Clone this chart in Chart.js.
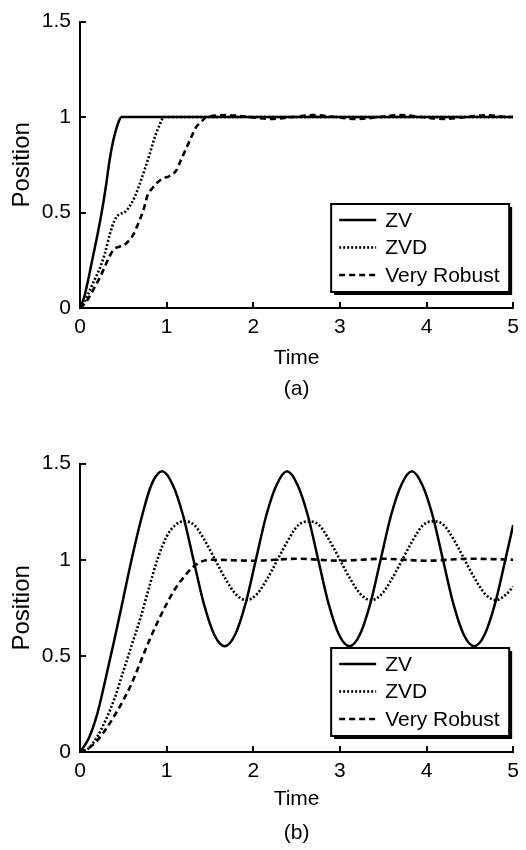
<!DOCTYPE html>
<html>
<head>
<meta charset="utf-8">
<script src="https://cdn.jsdelivr.net/npm/chart.js@4/dist/chart.umd.min.js"></script>
<style>
  body { margin: 0; background: #fff; }
  canvas { position: absolute; left: 0; }
  #js-chart-a { top: 0; }
  #js-chart-b { top: 442px; }
</style>
</head>
<body>
<canvas id="js-chart-a" width="526" height="410"></canvas>
<canvas id="js-chart-b" width="526" height="408"></canvas>
<script>
const seriesLabels = ['ZV', 'ZVD', 'Very Robust'];
const xTickLabels = ['0', '1', '2', '3', '4', '5'];
const yTickLabels = ['0', '0.5', '1', '1.5'];

// (a)
const zvTimeA = [0, 0.05, 0.1, 0.15, 0.2, 0.25, 0.3, 0.34, 0.38, 0.42, 0.45, 0.48, 5];
const zvPosA = [0, 0.06, 0.16, 0.27, 0.38, 0.5, 0.64, 0.77, 0.87, 0.94, 0.98, 1, 1];

const zvdTimeA = [0, 0.05, 0.11, 0.17, 0.23, 0.29, 0.34, 0.4, 0.45, 0.51, 0.57, 0.63, 0.69, 0.75, 0.8, 0.86, 0.92, 0.97, 5];
const zvdPosA = [0, 0.03, 0.09, 0.15, 0.21, 0.29, 0.38, 0.46, 0.49, 0.5, 0.53, 0.58, 0.65, 0.73, 0.8, 0.89, 0.96, 1, 1];

const vrTimeA = [0, 0.05, 0.11, 0.17, 0.23, 0.29, 0.34, 0.4, 0.45, 0.51, 0.56, 0.61, 0.67, 0.73, 0.78, 0.84, 0.9, 0.97, 1.03, 1.11, 1.16, 1.22, 1.28, 1.33, 1.41, 1.46, 1.7, 1.95, 2.2, 2.45, 2.7, 2.95, 3.2, 3.45, 3.7, 3.95, 4.2, 4.45, 4.7, 4.95, 5];
const vrPosA = [0, 0.02, 0.06, 0.11, 0.16, 0.22, 0.27, 0.31, 0.32, 0.33, 0.35, 0.38, 0.44, 0.51, 0.59, 0.63, 0.66, 0.68, 0.69, 0.72, 0.77, 0.83, 0.89, 0.94, 0.98, 1, 1.01, 1, 0.99, 1, 1.01, 1, 0.99, 1, 1.01, 1, 0.99, 1, 1.01, 1, 1];

// (b)
const zvTimeB = [0, 0.1, 0.2, 0.3, 0.4, 0.5, 0.6, 0.7, 0.8, 0.87, 0.95, 1.07, 1.19, 1.31, 1.43, 1.55, 1.67, 1.79, 1.91, 2.03, 2.15, 2.27, 2.39, 2.51, 2.63, 2.75, 2.87, 2.99, 3.11, 3.23, 3.35, 3.47, 3.59, 3.71, 3.83, 3.95, 4.07, 4.19, 4.31, 4.43, 4.55, 4.67, 4.79, 4.91, 5];
const zvPosB = [0, 0.07, 0.2, 0.39, 0.59, 0.8, 1.01, 1.2, 1.36, 1.43, 1.46, 1.39, 1.23, 1, 0.77, 0.61, 0.55, 0.61, 0.77, 1, 1.23, 1.39, 1.46, 1.39, 1.23, 1, 0.77, 0.61, 0.55, 0.61, 0.77, 1, 1.23, 1.39, 1.46, 1.39, 1.23, 1, 0.77, 0.61, 0.55, 0.61, 0.77, 1, 1.18];

const zvdTimeB = [0, 0.1, 0.2, 0.3, 0.4, 0.5, 0.6, 0.7, 0.8, 0.9, 1, 1.1, 1.2, 1.32, 1.44, 1.56, 1.68, 1.8, 1.92, 2.04, 2.16, 2.28, 2.4, 2.52, 2.64, 2.76, 2.88, 3, 3.12, 3.24, 3.36, 3.48, 3.6, 3.72, 3.84, 3.96, 4.08, 4.2, 4.32, 4.44, 4.56, 4.68, 4.8, 4.92, 5];
const zvdPosB = [0, 0.02, 0.08, 0.17, 0.28, 0.42, 0.56, 0.7, 0.86, 1.01, 1.12, 1.18, 1.2, 1.18, 1.1, 1, 0.9, 0.82, 0.79, 0.82, 0.9, 1, 1.1, 1.18, 1.2, 1.18, 1.1, 1, 0.9, 0.82, 0.79, 0.82, 0.9, 1, 1.1, 1.18, 1.2, 1.18, 1.1, 1, 0.9, 0.82, 0.79, 0.82, 0.86];

const vrTimeB = [0, 0.1, 0.2, 0.3, 0.4, 0.5, 0.6, 0.7, 0.8, 0.9, 1, 1.1, 1.2, 1.3, 1.4, 1.5, 2, 2.5, 3, 3.5, 4, 4.5, 5];
const vrPosB = [0, 0.02, 0.06, 0.12, 0.19, 0.27, 0.36, 0.47, 0.58, 0.68, 0.77, 0.85, 0.91, 0.96, 0.99, 1, 0.995, 1.005, 0.995, 1.005, 0.995, 1.005, 1];

Chart.defaults.font.family = '"Liberation Sans", Arial, sans-serif';
Chart.defaults.color = '#000';

const toPoints = (times, values) => times.map((t, i) => ({ x: t, y: values[i] }));

const lineStyles = [
  { borderDash: [], borderWidth: 2.5 },
  { borderDash: [2, 2], borderWidth: 2.6 },
  { borderDash: [6, 4], borderWidth: 2.6 }
];

function makeDatasets(series) {
  return series.map(([times, values], i) => ({
    label: seriesLabels[i],
    data: toPoints(times, values),
    borderColor: '#000',
    borderDash: lineStyles[i].borderDash,
    borderWidth: lineStyles[i].borderWidth,
    pointRadius: 0,
    cubicInterpolationMode: 'monotone',
    fill: false
  }));
}

// MATLAB style ticks pointing into the plot
const inwardTicks = {
  id: 'inwardTicks',
  afterDraw(chart) {
    const { ctx, scales: { x, y } } = chart;
    ctx.save();
    ctx.strokeStyle = '#000';
    ctx.lineWidth = 2;
    ctx.beginPath();
    for (const tick of x.ticks) {
      const px = Math.round(x.getPixelForValue(tick.value));
      ctx.moveTo(px, x.top);
      ctx.lineTo(px, x.top - 6);
    }
    for (const tick of y.ticks) {
      const py = Math.round(y.getPixelForValue(tick.value));
      ctx.moveTo(y.right, py);
      ctx.lineTo(y.right + 6, py);
    }
    ctx.stroke();
    ctx.restore();
  }
};

const boxLegend = {
  id: 'boxLegend',
  afterDraw(chart) {
    const { ctx, chartArea } = chart;
    const w = 178;
    const h = 88;
    const left = chartArea.right - 4 - w;
    const top = chartArea.bottom - 16 - h;
    ctx.save();
    ctx.fillStyle = '#000';
    ctx.fillRect(left + 3, top + 3, w, h);
    ctx.fillStyle = '#fff';
    ctx.fillRect(left, top, w, h);
    ctx.lineWidth = 2;
    ctx.strokeStyle = '#000';
    ctx.strokeRect(left, top, w, h);
    ctx.font = '21px "Liberation Sans", Arial, sans-serif';
    ctx.textBaseline = 'middle';
    chart.data.datasets.forEach((ds, i) => {
      const rowY = top + 16 + i * 27.5;
      ctx.setLineDash(ds.borderDash);
      ctx.lineWidth = ds.borderWidth;
      ctx.beginPath();
      ctx.moveTo(left + 8, rowY);
      ctx.lineTo(left + 45, rowY);
      ctx.stroke();
      ctx.setLineDash([]);
      ctx.fillStyle = '#000';
      ctx.fillText(ds.label, left + 54, rowY + 1);
    });
    ctx.restore();
  }
};

function buildChart(canvas, datasets, caption, dims) {
  return new Chart(canvas, {
    type: 'line',
    data: { datasets },
    options: {
      responsive: false,
      animation: false,
      devicePixelRatio: 1,
      layout: { padding: { top: 14, right: 9, left: 0, bottom: 0 } },
      plugins: {
        legend: { display: false },
        tooltip: { enabled: false }
      },
      scales: {
        x: {
          type: 'linear',
          min: 0,
          max: 5,
          grid: { display: false, drawTicks: false },
          border: { color: '#000', width: 2 },
          ticks: {
            stepSize: 1,
            padding: 7,
            maxRotation: 0,
            font: { size: 21 },
            callback: (value, index) => xTickLabels[index]
          },
          title: {
            display: true,
            text: ['Time', caption],
            font: { size: 21, lineHeight: dims.lineHeight },
            padding: { top: 0, bottom: dims.titleBottom }
          },
          afterFit: (scale) => { scale.height = dims.axisHeight; }
        },
        y: {
          min: 0,
          max: 1.5,
          grid: { display: false, drawTicks: false },
          border: { color: '#000', width: 2 },
          ticks: {
            stepSize: 0.5,
            padding: 9,
            font: { size: 21 },
            callback: (value, index) => yTickLabels[index]
          },
          title: {
            display: true,
            text: 'Position',
            font: { size: 24 },
            padding: { top: 8, bottom: 0 }
          },
          afterFit: (scale) => { scale.width = 80; }
        }
      }
    },
    plugins: [inwardTicks, boxLegend]
  });
}

buildChart(
  document.querySelector('#js-chart-a'),
  makeDatasets([[zvTimeA, zvPosA], [zvdTimeA, zvdPosA], [vrTimeA, vrPosA]]),
  '(a)',
  { axisHeight: 102, titleBottom: 5, lineHeight: 1.5 }
);

buildChart(
  document.querySelector('#js-chart-b'),
  makeDatasets([[zvTimeB, zvPosB], [zvdTimeB, zvdPosB], [vrTimeB, vrPosB]]),
  '(b)',
  { axisHeight: 98, titleBottom: 0, lineHeight: 1.62 }
);
</script>
</body>
</html>
